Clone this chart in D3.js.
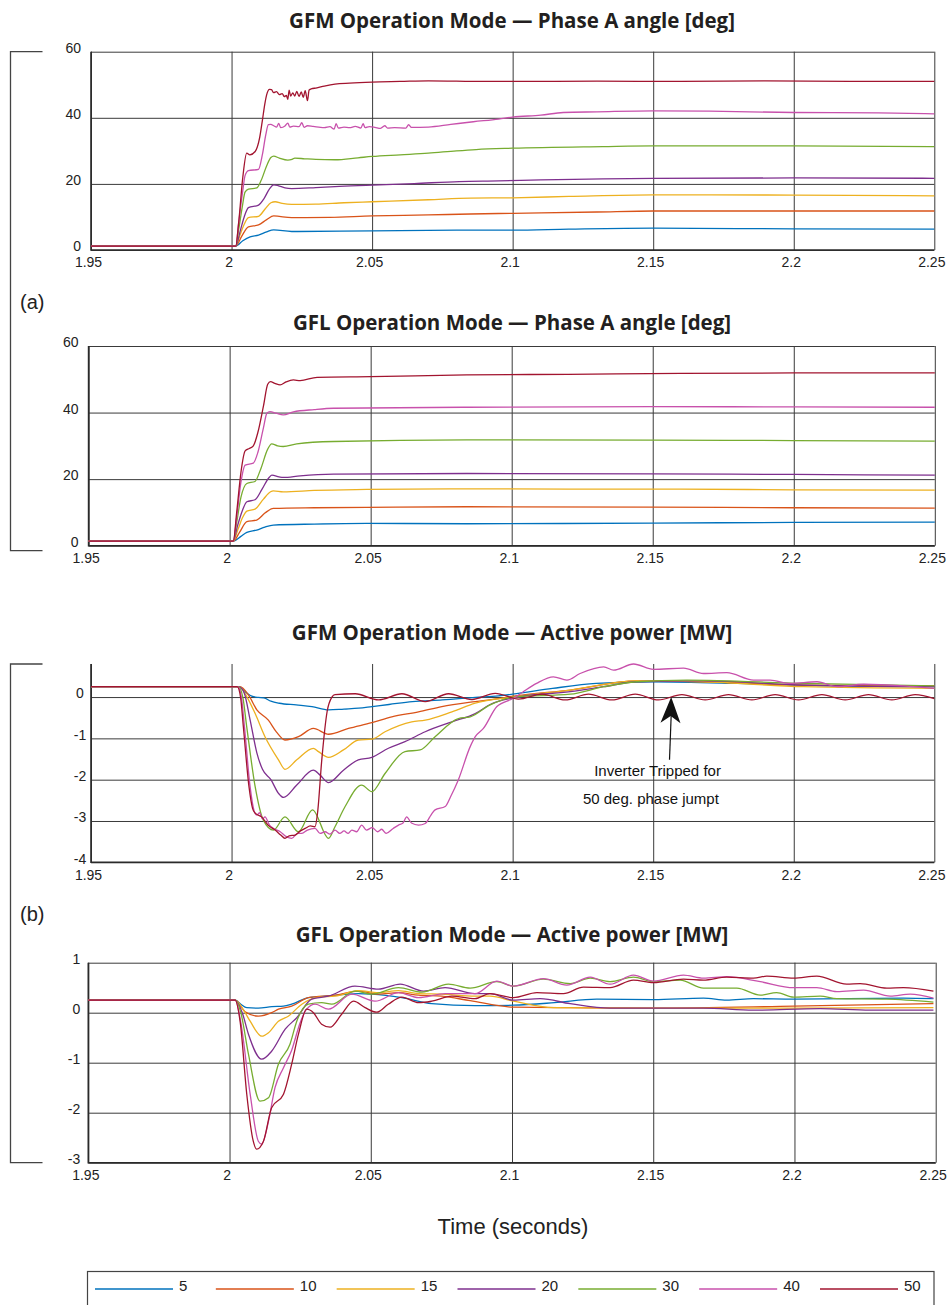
<!DOCTYPE html>
<html>
<head>
<meta charset="utf-8">
<script src="https://cdn.jsdelivr.net/npm/d3@7"></script>
<style>
  body { margin: 0; background: #fff; }
  svg { display: block; }
</style>
</head>
<body>
<svg id="chart" width="947" height="1305"></svg>
<script>
// series in legend order
const seriesLabels = ["5", "10", "15", "20", "30", "40", "50"];
const seriesColors = ["#0072BD", "#D95319", "#EDB120", "#7E2F8E", "#77AC30", "#C851AC", "#A2142F"];

const xTicks = [1.95, 2, 2.05, 2.1, 2.15, 2.2, 2.25];
const angleTicks = [0, 20, 40, 60];
const gfmPowerTicks = [0, -1, -2, -3, -4];
const gflPowerTicks = [1, 0, -1, -2, -3];

// GFM phase A angle [deg], [time, value]
const gfmAngle = [
  [[1.95,1.2],[2.0015,1.2],[2.0040,2.8],[2.0066,4.0],[2.0096,4.5],[2.0125,5.5],[2.0150,6.1],[2.0214,5.6],[2.0500,5.8],[2.0800,6.0],[2.1000,6.0],[2.1200,6.3],[2.1500,6.6],[2.2000,6.4],[2.2500,6.3]],
  [[1.95,1.2],[2.0015,1.2],[2.0035,4.0],[2.0060,7.0],[2.0096,7.6],[2.0125,9.2],[2.0150,10.3],[2.0214,9.8],[2.0350,9.9],[2.0500,10.3],[2.0700,10.6],[2.0850,10.9],[2.1000,11.1],[2.1300,11.5],[2.1500,11.8],[2.2000,11.8],[2.2500,11.8]],
  [[1.95,1.2],[2.0015,1.2],[2.0030,4.5],[2.0045,7.8],[2.0060,9.8],[2.0096,10.2],[2.0120,12.5],[2.0140,14.3],[2.0155,14.6],[2.0180,14.1],[2.0214,13.8],[2.0300,13.9],[2.0400,14.3],[2.0500,14.6],[2.0700,15.2],[2.0850,15.7],[2.1000,15.8],[2.1200,16.2],[2.1500,16.7],[2.1700,16.7],[2.2000,16.6],[2.2500,16.4]],
  [[1.95,1.2],[2.0015,1.2],[2.0030,5.5],[2.0045,10.0],[2.0060,12.8],[2.0096,13.6],[2.0115,15.5],[2.0135,18.5],[2.0150,19.7],[2.0165,19.5],[2.0190,18.8],[2.0214,18.6],[2.0300,18.9],[2.0368,19.2],[2.0500,19.6],[2.0650,20.1],[2.0810,20.7],[2.0950,20.9],[2.1100,21.2],[2.1500,21.7],[2.2000,21.8],[2.2500,21.7]],
  [[1.95,1.2],[2.0015,1.2],[2.0025,6.0],[2.0038,13.0],[2.0048,17.5],[2.0060,18.4],[2.0090,18.8],[2.0105,21.0],[2.0125,25.5],[2.0140,28.0],[2.0150,28.4],[2.0170,27.8],[2.0200,27.2],[2.0215,27.4],[2.0225,27.8],[2.0260,27.6],[2.0300,27.4],[2.0368,27.3],[2.0450,27.9],[2.0500,28.3],[2.0600,28.8],[2.0700,29.3],[2.0800,30.0],[2.0870,30.4],[2.1000,30.8],[2.1320,31.3],[2.1500,31.5],[2.2000,31.5],[2.2500,31.3]],
  [[1.95,1.2],[2.0015,1.2],[2.0025,8.0],[2.0040,18.0],[2.0048,22.5],[2.0060,24.0],[2.0096,24.4],[2.0110,29.0],[2.0122,35.0],[2.0131,37.9],[2.0140,38.0],[2.0150,37.6],[2.0160,37.2],[2.0168,38.3],[2.0175,37.0],[2.0190,37.5],[2.0200,38.4],[2.0207,37.2],[2.0220,37.5],[2.0240,37.3],[2.0250,38.5],[2.0258,37.1],[2.0270,37.6],[2.0290,37.4],[2.0310,37.2],[2.0330,37.0],[2.0350,37.3],[2.0365,36.6],[2.0372,38.2],[2.0380,36.9],[2.0400,37.2],[2.0420,37.0],[2.0440,37.4],[2.0460,36.9],[2.0468,38.2],[2.0475,37.0],[2.0490,37.3],[2.0510,37.1],[2.0530,36.8],[2.0545,37.6],[2.0555,36.9],[2.0580,37.0],[2.0620,36.9],[2.0630,37.9],[2.0640,37.1],[2.0700,37.2],[2.0780,38.0],[2.0860,38.8],[2.0950,39.6],[2.1000,40.2],[2.1100,40.8],[2.1180,41.6],[2.1300,41.8],[2.1500,42.1],[2.1700,42.0],[2.2000,41.6],[2.2300,41.5],[2.2500,41.2]],
  [[1.95,1.2],[2.0015,1.2],[2.0025,8.0],[2.0040,22.0],[2.0054,29.3],[2.0065,28.8],[2.0084,29.8],[2.0100,34.0],[2.0110,39.4],[2.0118,44.0],[2.0125,47.0],[2.0135,48.6],[2.0142,48.5],[2.0150,47.6],[2.0160,47.9],[2.0170,47.0],[2.0180,47.3],[2.0188,46.4],[2.0195,46.8],[2.0200,45.6],[2.0205,48.4],[2.0210,46.6],[2.0218,47.5],[2.0225,46.6],[2.0232,48.0],[2.0240,46.5],[2.0248,47.8],[2.0255,46.2],[2.0262,48.2],[2.0270,45.2],[2.0276,48.4],[2.0285,48.8],[2.0300,49.0],[2.0330,49.6],[2.0368,50.2],[2.0420,50.5],[2.0500,50.8],[2.0600,51.0],[2.0700,51.2],[2.0900,51.0],[2.1000,51.0],[2.1300,51.1],[2.1600,51.0],[2.1900,51.2],[2.2200,51.0],[2.2500,51.0]]
];

// GFL phase A angle [deg]
const gflAngle = [
  [[1.95,1.4],[2.0013,1.4],[2.0040,2.8],[2.0061,4.0],[2.0096,4.7],[2.0125,5.6],[2.0155,6.2],[2.0300,6.5],[2.0486,6.7],[2.0841,6.6],[2.1500,6.8],[2.2000,7.0],[2.2500,7.1]],
  [[1.95,1.4],[2.0013,1.4],[2.0035,4.0],[2.0061,7.2],[2.0096,7.7],[2.0125,9.8],[2.0155,11.2],[2.0300,11.4],[2.0486,11.5],[2.0841,11.7],[2.1500,11.6],[2.2000,11.4],[2.2500,11.3]],
  [[1.95,1.4],[2.0013,1.4],[2.0030,5.0],[2.0045,8.3],[2.0061,10.4],[2.0090,11.0],[2.0120,14.0],[2.0145,16.2],[2.0155,16.5],[2.0190,16.2],[2.0300,16.6],[2.0486,16.9],[2.0781,17.1],[2.1200,17.0],[2.1600,17.0],[2.2000,16.8],[2.2500,16.7]],
  [[1.95,1.4],[2.0013,1.4],[2.0028,6.0],[2.0045,10.5],[2.0061,13.2],[2.0090,13.8],[2.0115,17.0],[2.0140,20.5],[2.0150,21.2],[2.0175,20.7],[2.0190,20.5],[2.0250,21.0],[2.0368,21.5],[2.0841,21.7],[2.1500,21.6],[2.2000,21.4],[2.2500,21.2]],
  [[1.95,1.4],[2.0013,1.4],[2.0025,7.0],[2.0040,14.5],[2.0061,18.7],[2.0090,19.3],[2.0110,23.0],[2.0135,29.0],[2.0149,30.6],[2.0170,30.0],[2.0190,29.8],[2.0238,30.6],[2.0368,31.3],[2.0841,31.8],[2.1500,31.7],[2.2000,31.6],[2.2500,31.4]],
  [[1.95,1.4],[2.0013,1.4],[2.0025,8.5],[2.0040,19.0],[2.0055,24.2],[2.0084,24.8],[2.0100,28.0],[2.0120,35.5],[2.0132,39.8],[2.0143,40.3],[2.0165,39.8],[2.0190,39.3],[2.0226,40.2],[2.0300,40.9],[2.0368,41.3],[2.0840,41.6],[2.1500,41.8],[2.2000,41.7],[2.2500,41.6]],
  [[1.95,1.4],[2.0013,1.4],[2.0025,10.0],[2.0040,22.0],[2.0055,28.5],[2.0070,29.2],[2.0084,30.0],[2.0100,34.0],[2.0120,42.0],[2.0135,48.5],[2.0145,49.3],[2.0160,48.8],[2.0179,48.3],[2.0200,49.2],[2.0226,49.8],[2.0250,49.6],[2.0310,50.6],[2.0500,50.8],[2.0840,51.3],[2.1200,51.5],[2.1600,51.8],[2.2000,51.9],[2.2500,51.9]]
];

// GFM active power [MW]
const gfmPower = [
  [[1.95,0.25],[2.0024,0.25],[2.0050,0.12],[2.0072,0.02],[2.0095,-0.01],[2.0115,-0.02],[2.0140,-0.10],[2.0170,-0.15],[2.0230,-0.19],[2.0286,-0.23],[2.0345,-0.31],[2.0400,-0.29],[2.0452,-0.27],[2.0500,-0.23],[2.0560,-0.18],[2.0643,-0.11],[2.0750,-0.07],[2.0867,-0.01],[2.0950,0.03],[2.1000,0.07],[2.1142,0.21],[2.1297,0.33],[2.1500,0.37],[2.1800,0.33],[2.2000,0.29],[2.2500,0.25]],
  [[1.95,0.25],[2.0030,0.25],[2.0060,0.05],[2.0090,-0.31],[2.0131,-0.56],[2.0160,-0.85],[2.0190,-1.04],[2.0238,-0.96],[2.0291,-0.76],[2.0345,-0.90],[2.0416,-0.76],[2.0499,-0.62],[2.0570,-0.48],[2.0665,-0.36],[2.0748,-0.23],[2.0867,-0.11],[2.0950,-0.04],[2.1003,0.02],[2.1205,0.17],[2.1442,0.39],[2.1679,0.37],[2.2035,0.29],[2.2500,0.27]],
  [[1.95,0.25],[2.0028,0.25],[2.0055,0.00],[2.0084,-0.40],[2.0119,-0.96],[2.0167,-1.52],[2.0190,-1.75],[2.0232,-1.52],[2.0291,-1.24],[2.0309,-1.32],[2.0345,-1.46],[2.0398,-1.28],[2.0451,-1.04],[2.0499,-1.02],[2.0546,-0.84],[2.0641,-0.60],[2.0689,-0.56],[2.0784,-0.36],[2.0867,-0.15],[2.1003,0.00],[2.1205,0.17],[2.1442,0.39],[2.1679,0.37],[2.2035,0.25],[2.2500,0.21]],
  [[1.95,0.25],[2.0026,0.25],[2.0045,0.10],[2.0066,-0.55],[2.0090,-1.35],[2.0110,-1.75],[2.0140,-2.00],[2.0167,-2.33],[2.0185,-2.43],[2.0232,-2.13],[2.0291,-1.77],[2.0315,-1.89],[2.0345,-2.07],[2.0398,-1.77],[2.0451,-1.52],[2.0499,-1.46],[2.0558,-1.24],[2.0617,-1.08],[2.0689,-0.84],[2.0784,-0.60],[2.0867,-0.40],[2.0920,-0.18],[2.1003,-0.02],[2.1205,0.13],[2.1324,0.25],[2.1442,0.37],[2.1679,0.39],[2.2035,0.29],[2.2500,0.25]],
  [[1.95,0.25],[2.0024,0.25],[2.0040,0.00],[2.0054,-0.72],[2.0084,-2.17],[2.0113,-2.98],[2.0149,-3.22],[2.0190,-2.90],[2.0238,-3.26],[2.0288,-2.73],[2.0345,-3.42],[2.0368,-3.14],[2.0404,-2.65],[2.0463,-2.13],[2.0499,-2.29],[2.0546,-1.85],[2.0617,-1.32],[2.0671,-1.28],[2.0724,-0.96],[2.0807,-0.52],[2.0849,-0.48],[2.0920,-0.19],[2.1003,0.00],[2.1205,0.07],[2.1324,0.25],[2.1442,0.37],[2.1620,0.41],[2.2035,0.33],[2.2500,0.27]],
  [[1.95,0.25],[2.0022,0.25],[2.0035,0.00],[2.0046,-0.72],[2.0066,-2.17],[2.0080,-2.75],[2.0090,-2.86],[2.0100,-2.80],[2.0110,-2.95],[2.0119,-2.90],[2.0135,-3.10],[2.0149,-3.18],[2.0173,-3.26],[2.0195,-3.38],[2.0214,-3.42],[2.0235,-3.30],[2.0250,-3.30],[2.0270,-3.22],[2.0297,-3.18],[2.0315,-3.30],[2.0333,-3.26],[2.0350,-3.32],[2.0368,-3.22],[2.0385,-3.30],[2.0400,-3.24],[2.0415,-3.30],[2.0428,-3.22],[2.0445,-3.26],[2.0463,-3.10],[2.0480,-3.22],[2.0500,-3.16],[2.0520,-3.26],[2.0534,-3.20],[2.0550,-3.30],[2.0575,-3.18],[2.0594,-3.10],[2.0610,-3.05],[2.0623,-2.90],[2.0640,-3.05],[2.0665,-3.10],[2.0689,-3.06],[2.0710,-2.85],[2.0724,-2.73],[2.0760,-2.65],[2.0780,-2.40],[2.0807,-2.00],[2.0849,-1.20],[2.0867,-0.96],[2.0896,-0.76],[2.0944,-0.23],[2.1003,-0.03],[2.1038,0.13],[2.1085,0.33],[2.1145,0.49],[2.1193,0.41],[2.1240,0.57],[2.1324,0.73],[2.1359,0.65],[2.1430,0.80],[2.1501,0.67],[2.1608,0.70],[2.1679,0.57],[2.1762,0.59],[2.1857,0.41],[2.1916,0.41],[2.1987,0.33],[2.2083,0.37],[2.2154,0.25],[2.2249,0.31],[2.2392,0.27],[2.2500,0.21]],
  [[1.95,0.25],[2.0020,0.25],[2.0032,0.00],[2.0042,-0.72],[2.0062,-2.17],[2.0075,-2.70],[2.0084,-2.81],[2.0107,-2.90],[2.0130,-3.10],[2.0155,-3.22],[2.0175,-3.34],[2.0190,-3.42],[2.0205,-3.36],[2.0226,-3.34],[2.0245,-3.24],[2.0262,-3.18],[2.0280,-3.12],[2.0297,-3.14],[2.0306,-2.80],[2.0321,-1.52],[2.0340,-0.35],[2.0357,0.00],[2.0368,0.06],[2.0440,0.08],[2.0523,-0.07],[2.0606,0.08],[2.0689,-0.11],[2.0772,0.08],[2.0855,-0.06],[2.0938,0.09],[2.1021,-0.05],[2.1104,0.07],[2.1187,-0.07],[2.1270,0.07],[2.1353,-0.07],[2.1436,0.07],[2.1519,-0.07],[2.1602,0.06],[2.1685,-0.07],[2.1768,0.06],[2.1851,-0.07],[2.1934,0.06],[2.2017,-0.07],[2.2100,0.06],[2.2183,-0.07],[2.2266,0.06],[2.2349,-0.07],[2.2432,0.06],[2.2500,-0.04]]
];

// GFL active power [MW]
const gflPower = [
  [[1.95,0.25],[2.0020,0.25],[2.0040,0.17],[2.0061,0.10],[2.0102,0.09],[2.0150,0.12],[2.0191,0.13],[2.0220,0.17],[2.0279,0.30],[2.0338,0.33],[2.0456,0.38],[2.0503,0.37],[2.0610,0.30],[2.0716,0.18],[2.0869,0.14],[2.1005,0.15],[2.1150,0.20],[2.1300,0.27],[2.1501,0.26],[2.1678,0.29],[2.1760,0.25],[2.1855,0.28],[2.1997,0.27],[2.2386,0.29],[2.2492,0.28]],
  [[1.95,0.25],[2.0020,0.25],[2.0055,0.02],[2.0102,-0.07],[2.0149,0.00],[2.0173,0.07],[2.0220,0.13],[2.0279,0.30],[2.0374,0.35],[2.0456,0.43],[2.0527,0.37],[2.0598,0.40],[2.0669,0.35],[2.0751,0.33],[2.0852,0.24],[2.1005,0.11],[2.1206,0.10],[2.1501,0.09],[2.1997,0.13],[2.2492,0.18]],
  [[1.95,0.25],[2.0020,0.25],[2.0050,0.05],[2.0073,-0.17],[2.0114,-0.47],[2.0138,-0.40],[2.0173,-0.17],[2.0208,-0.07],[2.0256,0.17],[2.0315,0.31],[2.0374,0.33],[2.0456,0.44],[2.0527,0.40],[2.0598,0.44],[2.0669,0.38],[2.0751,0.37],[2.0869,0.33],[2.0922,0.33],[2.1005,0.23],[2.1147,0.10],[2.1501,0.09],[2.1997,0.09],[2.2492,0.10]],
  [[1.95,0.25],[2.0020,0.25],[2.0045,0.00],[2.0067,-0.43],[2.0114,-0.93],[2.0149,-0.77],[2.0197,-0.33],[2.0238,-0.10],[2.0291,0.27],[2.0350,0.33],[2.0444,0.53],[2.0527,0.47],[2.0604,0.57],[2.0687,0.43],[2.0763,0.50],[2.0869,0.38],[2.0922,0.38],[2.1005,0.25],[2.1100,0.28],[2.1206,0.18],[2.1347,0.09],[2.1501,0.09],[2.1678,0.09],[2.1855,0.05],[2.2091,0.08],[2.2268,0.05],[2.2492,0.05]],
  [[1.95,0.25],[2.0020,0.25],[2.0040,0.00],[2.0067,-0.83],[2.0108,-1.77],[2.0138,-1.70],[2.0173,-1.03],[2.0214,-0.63],[2.0238,-0.17],[2.0279,0.17],[2.0326,0.20],[2.0362,0.17],[2.0444,0.43],[2.0503,0.37],[2.0598,0.50],[2.0681,0.41],[2.0775,0.57],[2.0852,0.49],[2.0946,0.62],[2.1005,0.53],[2.1111,0.67],[2.1206,0.58],[2.1277,0.69],[2.1347,0.62],[2.1430,0.71],[2.1501,0.62],[2.1595,0.65],[2.1678,0.49],[2.1796,0.49],[2.1879,0.35],[2.1937,0.40],[2.1997,0.31],[2.2091,0.33],[2.2150,0.28],[2.2327,0.27],[2.2492,0.21]],
  [[1.95,0.25],[2.0020,0.25],[2.0040,-0.20],[2.0073,-1.63],[2.0102,-2.57],[2.0114,-2.63],[2.0138,-2.17],[2.0161,-1.50],[2.0191,-1.10],[2.0220,-0.75],[2.0250,-0.20],[2.0273,0.07],[2.0303,0.17],[2.0350,0.07],[2.0433,0.37],[2.0515,0.23],[2.0598,0.40],[2.0669,0.30],[2.0763,0.38],[2.0869,0.38],[2.0946,0.63],[2.1005,0.53],[2.1111,0.68],[2.1194,0.55],[2.1277,0.71],[2.1347,0.57],[2.1430,0.75],[2.1501,0.63],[2.1607,0.75],[2.1678,0.69],[2.1760,0.72],[2.1879,0.62],[2.1997,0.50],[2.2079,0.50],[2.2150,0.42],[2.2245,0.45],[2.2339,0.33],[2.2410,0.37],[2.2492,0.29]],
  [[1.95,0.25],[2.0020,0.25],[2.0038,-0.20],[2.0061,-1.63],[2.0084,-2.57],[2.0096,-2.73],[2.0120,-2.57],[2.0149,-1.90],[2.0191,-1.63],[2.0220,-1.03],[2.0244,-0.43],[2.0273,0.07],[2.0297,0.00],[2.0326,-0.23],[2.0356,-0.29],[2.0397,-0.03],[2.0439,0.23],[2.0480,0.10],[2.0521,0.01],[2.0562,0.17],[2.0610,0.31],[2.0669,0.20],[2.0716,0.23],[2.0787,0.33],[2.0869,0.28],[2.0922,0.38],[2.1005,0.30],[2.1088,0.40],[2.1182,0.38],[2.1253,0.51],[2.1347,0.50],[2.1430,0.65],[2.1501,0.60],[2.1607,0.67],[2.1678,0.65],[2.1760,0.71],[2.1855,0.69],[2.1902,0.73],[2.1997,0.69],[2.2079,0.73],[2.2185,0.57],[2.2233,0.58],[2.2327,0.49],[2.2386,0.50],[2.2492,0.43]]
];

// annotation on the GFM power panel, in data units
const tripArrow = { tip: [2.1564, 0], tail: [2.1558, -1.52] };
const tripText = [
  { t: 2.1290, v: -1.91, text: "Inverter Tripped for" },
  { t: 2.1250, v: -2.58, text: "50 deg. phase jumpt" }
];

const FONT = "'Liberation Sans', Arial, sans-serif";
const svg = d3.select("#chart");

const panels = [
  { title: "GFM Operation Mode — Phase A angle [deg]", titleY: 28, data: gfmAngle, domain: [0, 60], ticks: angleTicks,
    left: 91, right: 934.3, top: 51.7, bottom: 250, labelAnchor: "end", labelPad: 10 },
  { title: "GFL Operation Mode — Phase A angle [deg]", titleY: 330, data: gflAngle, domain: [0, 60], ticks: angleTicks,
    left: 88.6, right: 934.8, top: 346, bottom: 545.7, labelAnchor: "end", labelPad: 10 },
  { title: "GFM Operation Mode — Active power [MW]", titleY: 640, data: gfmPower, domain: [-4, 0.8], ticks: gfmPowerTicks,
    left: 91, right: 934.3, top: 664, bottom: 862.3, labelAnchor: "middle", labelPad: 11 },
  { title: "GFL Operation Mode — Active power [MW]", titleY: 942, data: gflPower, domain: [-3, 1], ticks: gflPowerTicks,
    left: 88.3, right: 935.7, top: 962.7, bottom: 1162.7, labelAnchor: "end", labelPad: 8 }
];

const scales = panels.map(p => {
  const x = d3.scaleLinear().domain([1.95, 2.25]).range([p.left, p.right]);
  const y = d3.scaleLinear().domain(p.domain).range([p.bottom, p.top]);
  const g = svg.append("g");

  g.append("text")
    .attr("x", 512).attr("y", p.titleY)
    .attr("text-anchor", "middle")
    .attr("font-family", "'Open Sans', Roboto, sans-serif")
    .attr("font-weight", 700)
    .attr("font-size", 20.5)
    .attr("fill", "#231f20")
    .text(p.title);

  // vertical grid + x labels
  const gx = g.append("g")
    .attr("transform", `translate(0,${p.bottom})`)
    .call(d3.axisBottom(x).tickValues(xTicks).tickSize(-(p.bottom - p.top)).tickPadding(7.5).tickFormat(d => String(d)));
  gx.attr("font-family", FONT).attr("font-size", 14);
  gx.select(".domain").remove();
  gx.selectAll(".tick line").attr("stroke", "#3a3a3a").attr("stroke-width", 1);
  gx.selectAll(".tick text").attr("fill", "#222").attr("dx", -3);

  // horizontal grid + y labels
  const gy = g.append("g")
    .attr("transform", `translate(${p.left},0)`)
    .call(d3.axisLeft(y).tickValues(p.ticks).tickSize(-(p.right - p.left)).tickPadding(p.labelPad).tickFormat(d => String(d)));
  gy.attr("font-family", FONT).attr("font-size", 14);
  gy.select(".domain").remove();
  gy.selectAll(".tick line").attr("stroke", "#3a3a3a").attr("stroke-width", 1);
  gy.selectAll(".tick text").attr("fill", "#222").attr("dy", "0.05em")
    .attr("text-anchor", p.labelAnchor)
    .attr("x", -p.labelPad);

  // axis lines
  g.append("path")
    .attr("d", `M${p.left},${p.top}V${p.bottom}H${p.right}`)
    .attr("fill", "none").attr("stroke", "#2a2a2a").attr("stroke-width", 1.6);

  const line = d3.line()
    .x(d => x(d[0]))
    .y(d => y(d[1]))
    .curve(d3.curveMonotoneX);

  g.append("g").selectAll("path")
    .data(p.data)
    .join("path")
    .attr("fill", "none")
    .attr("stroke", (d, i) => seriesColors[i])
    .attr("stroke-width", 1.3)
    .attr("stroke-linejoin", "round")
    .attr("d", line);

  return { x, y, g };
});

// annotation in GFM power panel
{
  const { x, y, g } = scales[2];
  const tx = x(tripArrow.tip[0]), ty = y(tripArrow.tip[1]);
  const bx = x(tripArrow.tail[0]), by = y(tripArrow.tail[1]);
  g.append("line")
    .attr("x1", bx).attr("y1", by).attr("x2", tx).attr("y2", ty + 18)
    .attr("stroke", "#111").attr("stroke-width", 1.2);
  const ang = Math.atan2(ty - by, tx - bx) * 180 / Math.PI + 90;
  g.append("path")
    .attr("d", "M0,0L-10,26L0,19L10,26Z")
    .attr("transform", `translate(${tx},${ty}) rotate(${ang})`)
    .attr("fill", "#111");
  g.selectAll("text.note")
    .data(tripText)
    .join("text")
    .attr("class", "note")
    .attr("x", d => x(d.t)).attr("y", d => y(d.v))
    .attr("font-family", FONT).attr("font-size", 15).attr("fill", "#111")
    .text(d => d.text);
}

// brackets (a) and (b)
const brackets = [
  { label: "(a)", top: panels[0].top, bottom: panels[1].bottom + 5, labelY: 309 },
  { label: "(b)", top: panels[2].top, bottom: panels[3].bottom, labelY: 921 }
];
brackets.forEach(b => {
  svg.append("path")
    .attr("d", `M42.5,${b.top}H10.5V${b.bottom}H42.5`)
    .attr("fill", "none").attr("stroke", "#444").attr("stroke-width", 1.3);
  svg.append("text")
    .attr("x", 20).attr("y", b.labelY)
    .attr("font-family", FONT).attr("font-size", 20).attr("fill", "#222")
    .text(b.label);
});

// x axis title
svg.append("text")
  .attr("x", 513).attr("y", 1234)
  .attr("text-anchor", "middle")
  .attr("font-family", FONT).attr("font-size", 22).attr("fill", "#222")
  .text("Time (seconds)");

// legend
const legend = svg.append("g");
legend.append("rect")
  .attr("x", 87.5).attr("y", 1271.5).attr("width", 846.5).attr("height", 60)
  .attr("fill", "none").attr("stroke", "#444").attr("stroke-width", 1.2);
const lx = d3.scalePoint().domain(seriesLabels).range([95, 820]);
const items = legend.selectAll("g.item")
  .data(seriesLabels)
  .join("g")
  .attr("class", "item")
  .attr("transform", d => `translate(${lx(d)},1289)`);
items.append("line")
  .attr("x1", 0).attr("x2", 78)
  .attr("stroke", (d, i) => seriesColors[i]).attr("stroke-width", 1.5);
items.append("text")
  .attr("x", 84).attr("y", 2)
  .attr("font-family", FONT).attr("font-size", 15).attr("fill", "#222")
  .text(d => d);
</script>
</body>
</html>
